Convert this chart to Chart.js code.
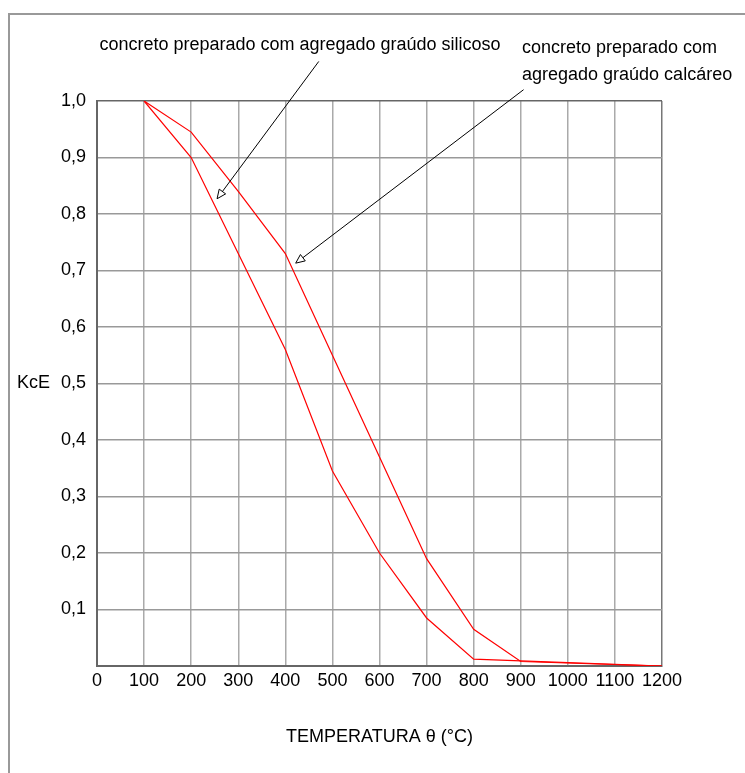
<!DOCTYPE html>
<html>
<head>
<meta charset="utf-8">
<script src="https://cdn.jsdelivr.net/npm/chart.js@4/dist/chart.umd.min.js"></script>
<style>
  html, body { margin: 0; padding: 0; background: #fff; overflow: hidden; }
  #wrap { position: relative; width: 745px; height: 773px; }
  #frame { position: absolute; left: 8px; top: 13px; width: 800px; height: 800px;
           border-left: 2px solid #999; border-top: 2px solid #999; box-sizing: border-box; }
  canvas { position: absolute; left: 0; top: 0; }
</style>
</head>
<body>
<div id="wrap">
  <div id="frame"></div>
  <canvas id="c" width="745" height="773"></canvas>
</div>
<script>
// ===== Data
const temps    = [100, 200, 300, 400, 500, 600, 700, 800, 900, 1000, 1100, 1200];
const silicoso = [1.0, 0.90, 0.73, 0.56, 0.345, 0.20, 0.085, 0.012, 0.009, null, null, 0.0];
const calcareo = [1.0, 0.945, 0.84, 0.73, 0.55, 0.37, 0.19, 0.065, 0.008, null, null, 0.0];
const xTicks = [0, 100, 200, 300, 400, 500, 600, 700, 800, 900, 1000, 1100, 1200];
const yTicks = [0.1, 0.2, 0.3, 0.4, 0.5, 0.6, 0.7, 0.8, 0.9, 1.0];

const labelSilicoso = 'concreto preparado com agregado graúdo silicoso';
const labelCalcareo = ['concreto preparado com', 'agregado graúdo calcáreo'];

// arrow tips sit on the curves (data coords), tails under the texts (data coords)
const arrows = [
  { from: [471, 1.07], to: [255, 0.827] },
  { from: [906, 1.02], to: [422, 0.713] }
];

const FONT = '"Liberation Sans", Arial, sans-serif';
Chart.defaults.font.family = FONT;
Chart.defaults.font.size = 18;
Chart.defaults.color = '#000';

const pts = (ys) => temps.map((t, i) => ({ x: t, y: ys[i] }));

// ===== Annotations: texts, arrows, y label
const notes = {
  id: 'notes',
  afterDatasetsDraw(chart) {
    const { ctx, scales: { x, y } } = chart;
    ctx.save();

    arrows.forEach(a => {
      const x0 = x.getPixelForValue(a.from[0]), y0 = y.getPixelForValue(a.from[1]);
      const x1 = x.getPixelForValue(a.to[0]),   y1 = y.getPixelForValue(a.to[1]);
      const ang = Math.atan2(y1 - y0, x1 - x0);
      const len = 9, half = 4;
      const bx = x1 - Math.cos(ang) * len, by = y1 - Math.sin(ang) * len;
      ctx.strokeStyle = '#000';
      ctx.lineWidth = 1;
      ctx.beginPath();
      ctx.moveTo(x0, y0);
      ctx.lineTo(bx, by);
      ctx.stroke();
      ctx.beginPath();
      ctx.moveTo(x1, y1);
      ctx.lineTo(bx - Math.sin(ang) * half, by + Math.cos(ang) * half);
      ctx.lineTo(bx + Math.sin(ang) * half, by - Math.cos(ang) * half);
      ctx.closePath();
      ctx.fillStyle = '#fff';
      ctx.fill();
      ctx.stroke();
    });

    ctx.fillStyle = '#000';
    ctx.font = '18px ' + FONT;
    ctx.textBaseline = 'middle';
    ctx.textAlign = 'center';
    ctx.fillText(labelSilicoso, 300, 45);
    ctx.textAlign = 'left';
    ctx.fillText(labelCalcareo[0], 522, 48);
    ctx.fillText(labelCalcareo[1], 522, 75);

    ctx.fillText('KcE', 17, y.getPixelForValue(0.5));
    ctx.restore();
  }
};

new Chart(document.getElementById('c'), {
  type: 'line',
  data: {
    datasets: [
      { label: 'silicoso', data: pts(silicoso) },
      { label: 'calcáreo', data: pts(calcareo) }
    ].map(d => ({ ...d, borderColor: '#ff0000', borderWidth: 1.2, pointRadius: 0,
                   tension: 0, fill: false, spanGaps: true }))
  },
  options: {
    responsive: false,
    animation: false,
    devicePixelRatio: 1,
    layout: { padding: { left: 0, right: 83, top: 101, bottom: 0 } },
    plugins: { legend: { display: false }, tooltip: { enabled: false } },
    scales: {
      x: {
        type: 'linear', min: 0, max: 1200,
        afterBuildTicks: s => { s.ticks = xTicks.map(v => ({ value: v })); },
        afterFit: s => { s.height = 107; },
        ticks: { padding: 4, maxRotation: 0, autoSkip: false, callback: v => String(v) },
        grid: { drawTicks: false, lineWidth: 1.5,
                color: c => c.tick && c.tick.value === 1200 ? '#777' : '#aaa' },
        border: { color: '#666', width: 2 },
        title: { display: true, text: 'TEMPERATURA θ (°C)', padding: { bottom: 25 } }
      },
      y: {
        min: 0, max: 1.0,
        afterBuildTicks: s => { s.ticks = yTicks.map(v => ({ value: v })); },
        afterFit: s => { s.width = 97; },
        ticks: { padding: 11, callback: v => v.toFixed(1).replace('.', ',') },
        grid: { drawTicks: false, lineWidth: 1.5,
                color: c => c.tick && c.tick.value === 1 ? '#666' : '#999' },
        border: { color: '#666', width: 2 }
      }
    }
  },
  plugins: [notes]
});
</script>
</body>
</html>
